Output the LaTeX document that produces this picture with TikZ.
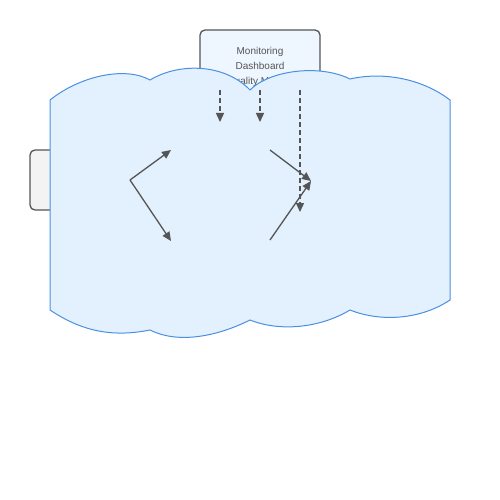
\documentclass[tikz,border=0pt]{standalone}
\usepackage{fontspec}
\setmainfont{Liberation Sans}
\usetikzlibrary{arrows.meta}
\definecolor{cloudfill}{HTML}{E3F0FD}
\definecolor{cloudline}{HTML}{4A90E2}
\definecolor{boxline}{HTML}{555555}
\definecolor{topfill}{HTML}{EEF6FF}
\definecolor{leftfill}{HTML}{F3F3F3}
\tikzset{
  box/.style={draw=boxline, line width=1.3pt, rounded corners=5pt},
  flow/.style={draw=boxline, line width=1.3pt, -{Triangle[length=9pt,width=8pt]}},
  dflow/.style={flow, dash pattern=on 5pt off 3pt},
  lbl/.style={font=\fontsize{10pt}{15pt}\selectfont, text=boxline, align=center, inner sep=0pt}
}
\begin{document}
\begin{tikzpicture}[x=1pt,y=-1pt]
\useasboundingbox (0,0) rectangle (500,500);
% background boxes
\draw[box, fill=topfill] (200,30) rectangle (320,130);
\node[lbl, anchor=north] (mon) at (260,47.5) {Monitoring\\Dashboard\\Quality Metrics};
\draw[box, fill=leftfill] (30,150) rectangle (90,210);
% cloud
\draw[draw=cloudline, fill=cloudfill, line width=1pt]
  (50,100) .. controls (80,76) and (125,66) .. (150,80)
  .. controls (180,62) and (225,64) .. (250,90)
  .. controls (270,70) and (320,64) .. (350,79)
  .. controls (380,72) and (420,77) .. (450,100)
  -- (450,300)
  .. controls (420,320) and (380,322) .. (350,310)
  .. controls (320,328) and (280,332) .. (250,320)
  .. controls (220,335) and (180,345) .. (150,330)
  .. controls (110,338) and (80,330) .. (50,310)
  -- cycle;
% connector points
\coordinate (a) at (130,180);
\coordinate (b) at (171,150);
\coordinate (c) at (171,241);
\coordinate (d) at (270,150);
\coordinate (e) at (270,240);
\coordinate (f) at (311,181);
\coordinate (g1) at (220,90);
\coordinate (g2) at (220,122);
\coordinate (h1) at (260,90);
\coordinate (h2) at (260,122);
\coordinate (k1) at (300,90);
\coordinate (k2) at (300,212);
\draw[flow] (a) -- (b);
\draw[flow] (a) -- (c);
\draw[flow] (d) -- (f);
\draw[flow] (e) -- (f);
\draw[dflow] (g1) -- (g2);
\draw[dflow] (h1) -- (h2);
\draw[dflow] (k1) -- (k2);
\end{tikzpicture}
\end{document}
